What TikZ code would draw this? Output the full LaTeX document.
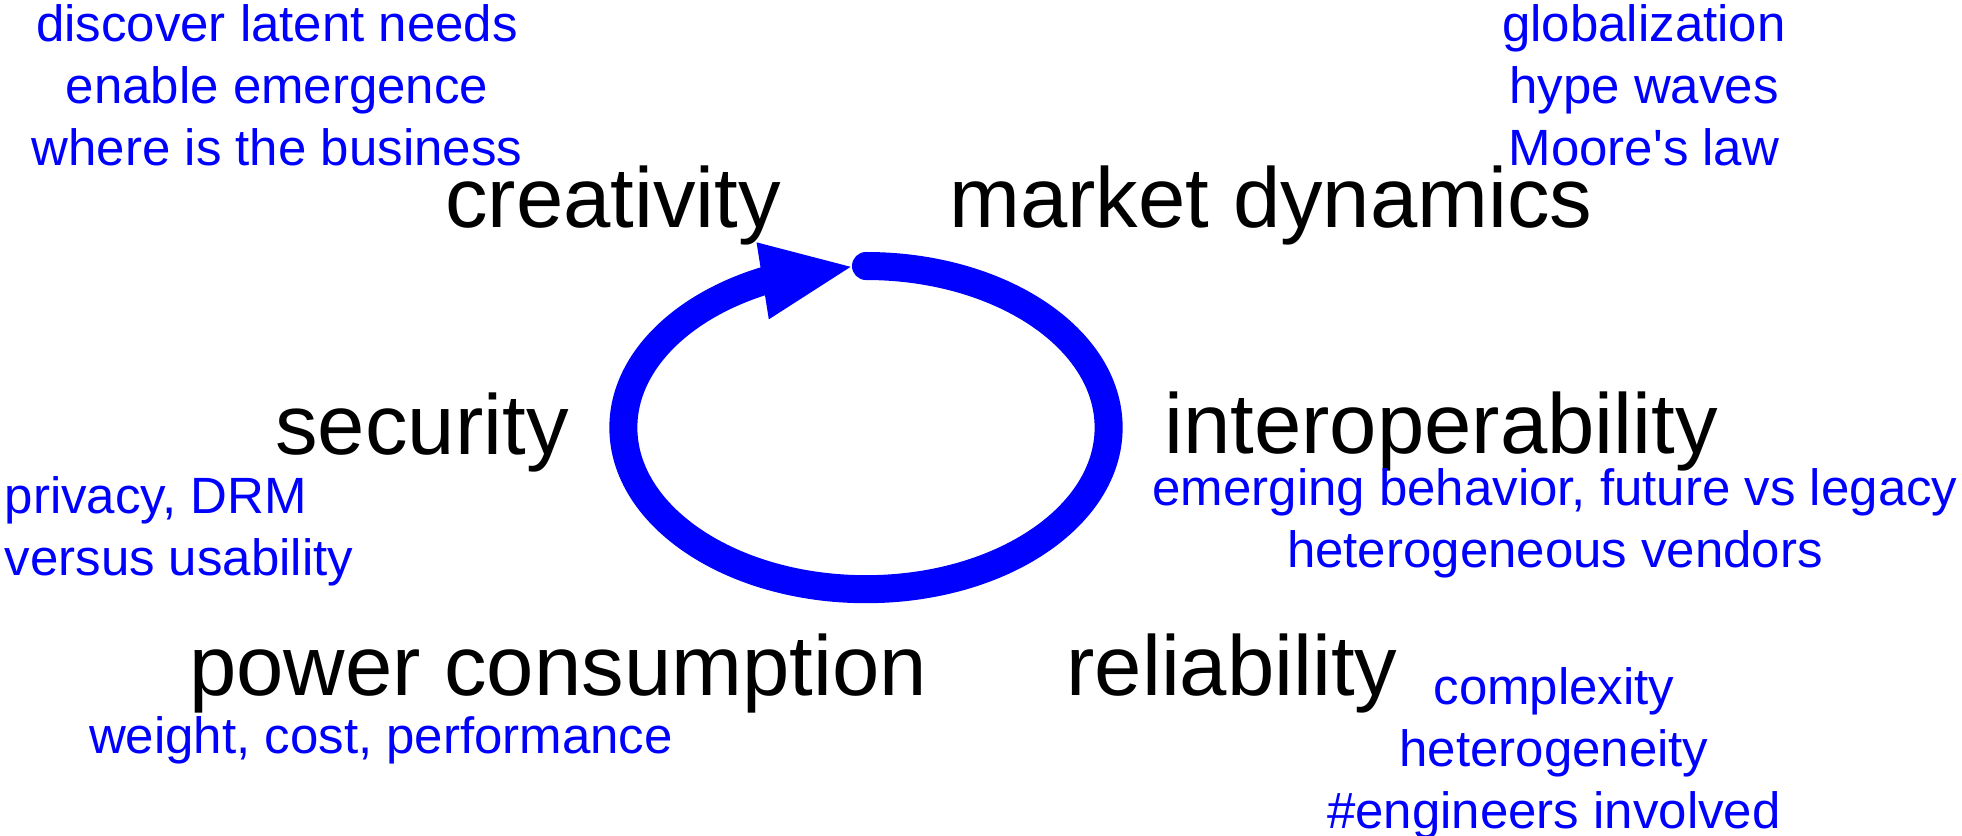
\documentclass[tikz,border=0pt]{standalone}
\usepackage{fontspec}
\setmainfont{Liberation Sans}
\usetikzlibrary{arrows.meta}
\usetikzlibrary{bending}
\tikzset{
  topic/.style={font=\fontsize{24.2}{29}\selectfont, anchor=base, inner sep=0pt},
  note/.style={text=blue, font=\fontsize{14.5}{17.5}\selectfont, align=center,
    anchor=base, inner sep=0pt},
  loopline/.style={draw=blue, line width=0.28cm, line cap=round,
    -{Triangle[length=0.93cm, width=0.7cm]}}
}

\begin{document}
\begin{tikzpicture}[x=0.01cm, y=-0.01cm]
    \useasboundingbox (0,0) rectangle (1962,836);

    \coordinate (top) at (866,266);
    \draw[loopline] (top) arc[start angle=90, end angle=-267.3,
      x radius=2.425cm, y radius=1.615cm];

    \node[topic] (creativity) at (613,227) {creativity};
    \node[topic] (market) at (1271,227) {market dynamics};
    \node[topic] (security) at (422,454) {security};
    \node[topic] (interop) at (1441,453) {interoperability};
    \node[topic] (power) at (558,695) {power consumption};
    \node[topic] (reliab) at (1232,695) {reliability};

    % base of a note is the baseline of its last line
    \node[note] (creanote) at (277,165)
      {discover latent needs\\enable emergence\\where is the business};
    \node[note] (marknote) at (1644,165)
      {globalization\\hype waves\\Moore\textquotesingle s law};
    \node[note, align=left, anchor=base west] (secnote) at (4,575)
      {privacy, DRM\\versus usability};
    \node[note] (internote) at (1555,567)
      {emerging behavior, future vs legacy\\heterogeneous vendors};
    \node[note] (powernote) at (381,753) {weight, cost, performance};
    \node[note] (relnote) at (1554,828)
      {complexity\\heterogeneity\\\#engineers involved};
\end{tikzpicture}
\end{document}
